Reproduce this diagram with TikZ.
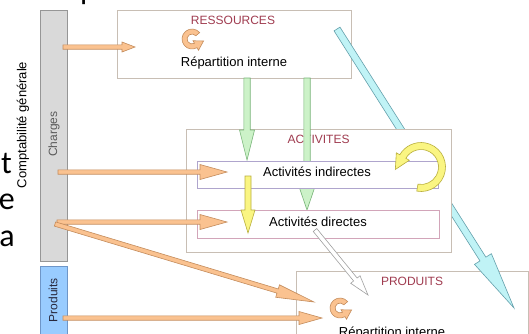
\documentclass[tikz,border=0pt]{standalone}
\usepackage{fontspec}
\setmainfont{Liberation Sans}
\newfontfamily\slidefont{Carlito}
\usetikzlibrary{calc}

\definecolor{orF}{RGB}{250,194,144}
\definecolor{orD}{RGB}{196,140,92}
\definecolor{grF}{RGB}{204,242,200}
\definecolor{grD}{RGB}{120,180,120}
\definecolor{yeF}{RGB}{250,245,130}
\definecolor{yeD}{RGB}{185,175,60}
\definecolor{cyF}{RGB}{192,243,246}
\definecolor{cyD}{RGB}{100,160,172}
\definecolor{gyF}{RGB}{217,217,217}
\definecolor{gyD}{RGB}{150,150,150}
\definecolor{blF}{RGB}{153,204,255}
\definecolor{blD}{RGB}{110,150,200}
\definecolor{boxD}{RGB}{200,190,180}
\definecolor{labC}{RGB}{160,60,80}
\definecolor{indD}{RGB}{175,165,205}
\definecolor{dirD}{RGB}{210,165,185}
\definecolor{wtD}{RGB}{160,160,160}

% block arrow: #1 start, #2 tip, #3 half shaft, #4 head length, #5 half head width, #6 style
\newcommand{\blockarrow}[6]{%
  \coordinate (bhA) at (#1);
  \coordinate (bhB) at (#2);
  \coordinate (bhH) at ($(bhB)!#4!(bhA)$);
  \draw[#6] ($(bhA)!#3!90:(bhB)$) -- ($(bhH)!#3!90:(bhB)$) -- ($(bhH)!#5!90:(bhB)$)
    -- (bhB) -- ($(bhH)!#5!-90:(bhB)$) -- ($(bhH)!#3!-90:(bhB)$) -- ($(bhA)!#3!-90:(bhB)$) -- cycle;
}
% small orange cycle icon centred on a named coordinate
\newcommand{\cycleicon}[1]{%
  \begin{scope}[shift={(#1)}, x=1pt, y=1pt]
    \draw[orarrow] (40:10) arc[start angle=40, end angle=300, radius=10]
      -- (300:13) -- ($(300:7.5)+(30:9)$) -- (300:2) -- (300:5)
      arc[start angle=300, end angle=40, radius=5] -- cycle;
  \end{scope}
}

\begin{document}
\begin{tikzpicture}[x=1pt, y=-1pt,
  box/.style={draw=boxD, fill=white, line width=0.8pt, inner sep=0pt},
  lab/.style={font=\fontsize{12}{14}\selectfont, text=labC, inner sep=0pt},
  txt/.style={font=\fontsize{13}{15}\selectfont, inner sep=0pt},
  side/.style={font=\fontsize{12}{14}\selectfont, inner sep=0pt, rotate=90},
  orarrow/.style={fill=orF, draw=orD, line width=0.6pt, line join=miter},
  grarrow/.style={fill=grF, draw=grD, line width=0.6pt},
  yearrow/.style={fill=yeF, draw=yeD, line width=0.6pt},
  cyarrow/.style={fill=cyF, draw=cyD, line width=0.6pt},
  wtarrow/.style={fill=white, draw=wtD, line width=0.6pt},
  big/.style={font=\slidefont\fontsize{32}{36}\selectfont, inner sep=0pt, anchor=base east}
]
\useasboundingbox (0,0) rectangle (529,333);
\fill[white] (0,0) rectangle (529,333);

% fragments of slide text
\node[big] (ft) at (12,173) {t};
\node[big] (fe) at (15,209) {e};
\node[big] (fa) at (15,246) {a};
\node[font=\slidefont\fontsize{32}{36}\selectfont, inner sep=0pt, anchor=base west] (fp) at (80,-1) {p};

% left bars
\node[side, font=\fontsize{13}{15}\selectfont] (compta) at (23,125) {Comptabilité générale};
\node[draw=gyD, fill=gyF, line width=0.8pt, minimum width=27pt, minimum height=251pt, inner sep=0pt] (charges) at (53.5,135.5) {};
\node[side, text={rgb,255:red,90;green,90;blue,90}] (chargesT) at (54,134) {Charges};
\node[draw=blD, fill=blF, line width=0.8pt, minimum width=27pt, minimum height=74pt, inner sep=0pt] (produitsBar) at (53.5,303) {};
\node[side, text={rgb,255:red,40;green,40;blue,60}] (produitsT) at (53,300) {Produits};

% RESSOURCES
\node[box, minimum width=234pt, minimum height=68pt] (res) at (234,44) {};
\node[lab] (resL) at (233,20) {RESSOURCES};
\coordinate (resC) at (192,39);
\cycleicon{resC}
\node[txt] (resT) at (234,63) {Répartition interne};

% orange arrow to ressources
\coordinate (o1s) at (63,47);
\coordinate (o1e) at (135,47);
\blockarrow{o1s}{o1e}{2.2pt}{13pt}{5pt}{orarrow}

% PRODUITS
\node[box, minimum width=232pt, minimum height=80pt] (prod) at (412,311) {};
\node[lab] (prodL) at (412,281) {PRODUITS};
\coordinate (prodC) at (340,308);
\cycleicon{prodC}
\node[txt] (prodT) at (392,333) {Répartition interne};

% cyan arrow
\coordinate (cys) at (337,29);
\coordinate (cye) at (514,308);
\blockarrow{cys}{cye}{3.5pt}{58pt}{10pt}{cyarrow}

% ACTIVITES
\node[box, minimum width=265pt, minimum height=123pt] (act) at (318.5,190.5) {};
\node[lab] (actL) at (318.5,139) {ACTIVITES};

% green arrows (over the ACTIVITES frame, under the inner boxes)
\coordinate (g1s) at (247,78);
\coordinate (g1e) at (247,160);
\blockarrow{g1s}{g1e}{3.2pt}{30pt}{7.5pt}{grarrow}
\coordinate (g2s) at (307,78);
\coordinate (g2e) at (307,210);
\blockarrow{g2s}{g2e}{3.2pt}{22pt}{7.5pt}{grarrow}

\node[draw=indD, fill=white, line width=0.8pt, minimum width=241pt, minimum height=27pt, inner sep=0pt] (ind) at (317.5,174.5) {};
\node[txt] (indT) at (317,172) {Activités indirectes};
\node[draw=dirD, fill=white, line width=0.8pt, minimum width=242pt, minimum height=28pt, inner sep=0pt] (dir) at (318,224) {};
\node[txt] (dirT) at (318,222) {Activités directes};

% yellow arrows
\coordinate (ys) at (248,176);
\coordinate (ye) at (248,233);
\blockarrow{ys}{ye}{3pt}{23pt}{7pt}{yearrow}
\coordinate (loopC) at (421,167);
\begin{scope}[shift={(loopC)}, x=1pt, y=1pt]
  \draw[yearrow] (-100:17.5) -- (-100:24.5) arc[start angle=-100, end angle=150, radius=24.5]
    -- (150:28.5) -- ($(150:21)+(240:15)$) -- (150:13.5) -- (150:17.5)
    arc[start angle=150, end angle=-100, radius=17.5] -- cycle;
\end{scope}

% orange arrows from charges
\coordinate (o2s) at (58,172);
\coordinate (o2e) at (227,172);
\blockarrow{o2s}{o2e}{2.2pt}{27pt}{7.5pt}{orarrow}
\coordinate (o3s) at (57,222);
\coordinate (o3e) at (227,222);
\blockarrow{o3s}{o3e}{2.2pt}{27pt}{7.5pt}{orarrow}
\coordinate (o4s) at (55,224);
\coordinate (o4e) at (314,302);
\blockarrow{o4s}{o4e}{2.2pt}{38pt}{6.5pt}{orarrow}
\coordinate (o5s) at (63,318);
\coordinate (o5e) at (322,318);
\blockarrow{o5s}{o5e}{2.2pt}{23pt}{6.5pt}{orarrow}

% white arrow
\coordinate (ws) at (315,230);
\coordinate (we) at (368,295);
\blockarrow{ws}{we}{2.3pt}{20pt}{6pt}{wtarrow}
\end{tikzpicture}
\end{document}
